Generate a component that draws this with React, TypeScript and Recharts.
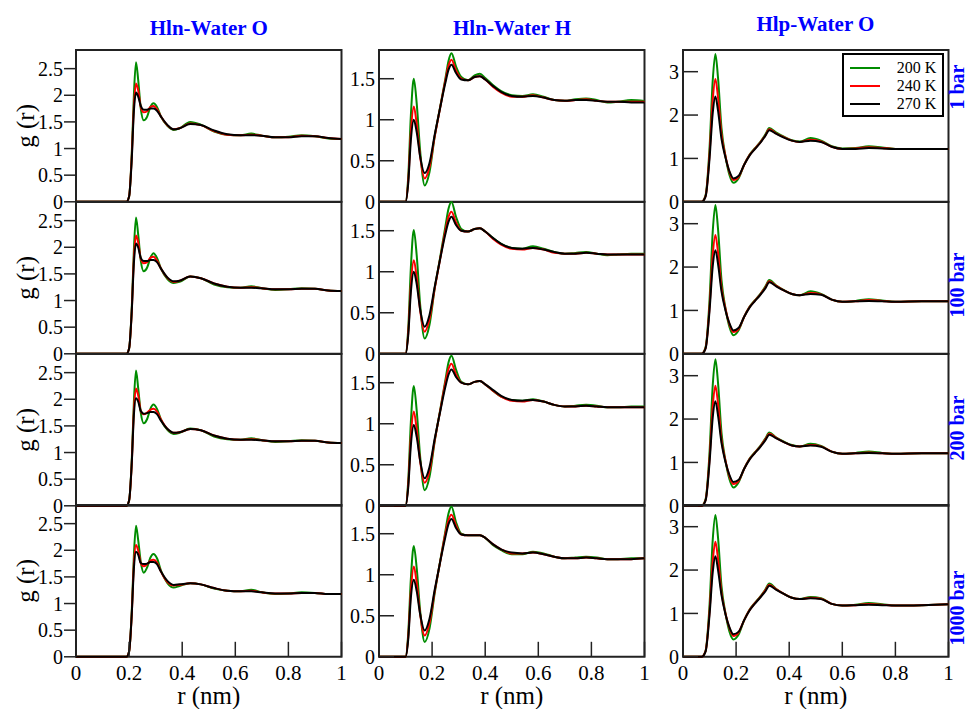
import React from 'react';
import { LineChart, Line, XAxis, YAxis, ReferenceArea, Legend } from 'recharts';

// r grid (nm) for each column
const rHlnO = [0, 0.19, 0.2, 0.21, 0.218, 0.226, 0.234, 0.244, 0.255, 0.268, 0.28, 0.292, 0.305, 0.32, 0.345, 0.368, 0.39, 0.43, 0.47, 0.52, 0.57, 0.62, 0.66, 0.7, 0.75, 0.8, 0.85, 0.9, 0.95, 1.0];
const rHlnH = [0, 0.1, 0.11, 0.12, 0.131, 0.142, 0.155, 0.172, 0.19, 0.21, 0.23, 0.25, 0.262, 0.273, 0.29, 0.31, 0.335, 0.36, 0.38, 0.4, 0.43, 0.46, 0.5, 0.54, 0.58, 0.62, 0.66, 0.7, 0.74, 0.78, 0.82, 0.86, 0.9, 0.95, 1.0];
const rHlpO = [0, 0.07, 0.085, 0.1, 0.112, 0.122, 0.132, 0.145, 0.16, 0.175, 0.19, 0.21, 0.23, 0.25, 0.27, 0.29, 0.31, 0.325, 0.35, 0.38, 0.41, 0.44, 0.48, 0.52, 0.56, 0.6, 0.65, 0.7, 0.75, 0.8, 0.9, 1.0];

// g(r) per pressure: 1 bar, 100 bar, 200 bar, 1000 bar
const hlnO200 = [
  [0, 0, 0.1, 0.9, 2.0, 2.62, 2.3, 1.75, 1.53, 1.6, 1.78, 1.85, 1.78, 1.6, 1.42, 1.35, 1.38, 1.5, 1.45, 1.32, 1.26, 1.25, 1.28, 1.24, 1.21, 1.22, 1.25, 1.23, 1.19, 1.18],
  [0, 0, 0.1, 0.85, 1.95, 2.56, 2.25, 1.75, 1.55, 1.62, 1.8, 1.89, 1.8, 1.6, 1.4, 1.33, 1.35, 1.45, 1.42, 1.3, 1.25, 1.24, 1.27, 1.23, 1.2, 1.21, 1.23, 1.22, 1.19, 1.18],
  [0, 0, 0.1, 0.85, 1.95, 2.54, 2.22, 1.75, 1.55, 1.63, 1.82, 1.9, 1.82, 1.62, 1.42, 1.35, 1.37, 1.45, 1.42, 1.3, 1.25, 1.24, 1.27, 1.23, 1.2, 1.21, 1.23, 1.22, 1.19, 1.18],
  [0, 0, 0.1, 0.85, 1.9, 2.46, 2.2, 1.78, 1.58, 1.68, 1.86, 1.93, 1.85, 1.62, 1.38, 1.3, 1.33, 1.38, 1.36, 1.28, 1.24, 1.23, 1.26, 1.21, 1.18, 1.19, 1.21, 1.2, 1.18, 1.18],
];
const hlnO240 = [
  [0, 0, 0.1, 0.85, 1.8, 2.22, 2.1, 1.78, 1.68, 1.7, 1.78, 1.8, 1.74, 1.6, 1.43, 1.36, 1.38, 1.47, 1.44, 1.33, 1.26, 1.25, 1.26, 1.24, 1.21, 1.21, 1.24, 1.23, 1.2, 1.18],
  [0, 0, 0.1, 0.8, 1.8, 2.22, 2.1, 1.78, 1.7, 1.72, 1.8, 1.82, 1.75, 1.6, 1.42, 1.35, 1.37, 1.45, 1.42, 1.32, 1.26, 1.24, 1.25, 1.23, 1.21, 1.21, 1.22, 1.22, 1.19, 1.18],
  [0, 0, 0.1, 0.8, 1.8, 2.2, 2.08, 1.78, 1.72, 1.75, 1.8, 1.82, 1.77, 1.62, 1.44, 1.37, 1.38, 1.44, 1.42, 1.32, 1.26, 1.24, 1.25, 1.23, 1.21, 1.21, 1.22, 1.22, 1.19, 1.18],
  [0, 0, 0.1, 0.8, 1.75, 2.1, 2.0, 1.76, 1.7, 1.74, 1.8, 1.82, 1.77, 1.6, 1.4, 1.34, 1.35, 1.38, 1.36, 1.29, 1.24, 1.23, 1.24, 1.21, 1.19, 1.19, 1.2, 1.2, 1.18, 1.18],
];
const hlnO270 = [
  [0, 0, 0.1, 0.8, 1.7, 2.05, 1.98, 1.8, 1.73, 1.73, 1.75, 1.75, 1.71, 1.6, 1.44, 1.36, 1.38, 1.46, 1.44, 1.34, 1.27, 1.25, 1.25, 1.24, 1.21, 1.21, 1.23, 1.23, 1.2, 1.18],
  [0, 0, 0.1, 0.8, 1.7, 2.07, 2.0, 1.8, 1.74, 1.74, 1.76, 1.76, 1.72, 1.6, 1.43, 1.36, 1.37, 1.45, 1.42, 1.32, 1.26, 1.24, 1.24, 1.23, 1.21, 1.21, 1.22, 1.22, 1.19, 1.18],
  [0, 0, 0.1, 0.8, 1.7, 2.02, 1.96, 1.78, 1.73, 1.74, 1.76, 1.76, 1.72, 1.6, 1.44, 1.37, 1.38, 1.44, 1.42, 1.32, 1.26, 1.24, 1.24, 1.23, 1.21, 1.21, 1.22, 1.22, 1.19, 1.18],
  [0, 0, 0.1, 0.8, 1.65, 1.97, 1.92, 1.76, 1.74, 1.75, 1.78, 1.78, 1.74, 1.6, 1.42, 1.35, 1.36, 1.38, 1.36, 1.29, 1.24, 1.23, 1.23, 1.21, 1.19, 1.19, 1.2, 1.2, 1.18, 1.18],
];

const hlnH200 = [
  [0, 0, 0.3, 1.05, 1.5, 1.2, 0.62, 0.2, 0.36, 0.8, 1.15, 1.5, 1.72, 1.81, 1.65, 1.52, 1.48, 1.54, 1.56, 1.51, 1.42, 1.35, 1.3, 1.29, 1.31, 1.28, 1.24, 1.23, 1.25, 1.26, 1.24, 1.21, 1.22, 1.24, 1.23],
  [0, 0, 0.3, 1.05, 1.51, 1.2, 0.6, 0.185, 0.35, 0.8, 1.17, 1.55, 1.77, 1.85, 1.67, 1.52, 1.49, 1.52, 1.53, 1.49, 1.41, 1.34, 1.29, 1.28, 1.31, 1.28, 1.24, 1.22, 1.23, 1.24, 1.22, 1.2, 1.21, 1.22, 1.22],
  [0, 0, 0.3, 1.02, 1.46, 1.16, 0.6, 0.19, 0.35, 0.79, 1.16, 1.53, 1.75, 1.83, 1.66, 1.51, 1.48, 1.51, 1.52, 1.48, 1.4, 1.33, 1.29, 1.28, 1.3, 1.27, 1.23, 1.21, 1.22, 1.23, 1.22, 1.2, 1.2, 1.21, 1.21],
  [0, 0, 0.28, 0.95, 1.35, 1.08, 0.56, 0.18, 0.34, 0.78, 1.16, 1.53, 1.75, 1.83, 1.64, 1.5, 1.48, 1.48, 1.48, 1.45, 1.36, 1.3, 1.25, 1.25, 1.28, 1.26, 1.22, 1.2, 1.21, 1.22, 1.21, 1.19, 1.19, 1.2, 1.2],
];
const hlnH240 = [
  [0, 0, 0.25, 0.85, 1.16, 0.95, 0.55, 0.285, 0.42, 0.8, 1.14, 1.48, 1.66, 1.73, 1.6, 1.5, 1.48, 1.52, 1.53, 1.49, 1.4, 1.33, 1.28, 1.28, 1.3, 1.27, 1.24, 1.23, 1.24, 1.25, 1.23, 1.22, 1.22, 1.22, 1.22],
  [0, 0, 0.25, 0.84, 1.14, 0.93, 0.53, 0.27, 0.42, 0.8, 1.15, 1.5, 1.67, 1.73, 1.6, 1.5, 1.49, 1.52, 1.53, 1.49, 1.4, 1.33, 1.28, 1.27, 1.29, 1.27, 1.23, 1.22, 1.22, 1.23, 1.22, 1.21, 1.21, 1.21, 1.21],
  [0, 0, 0.25, 0.84, 1.15, 0.93, 0.54, 0.28, 0.42, 0.8, 1.15, 1.5, 1.67, 1.73, 1.6, 1.5, 1.48, 1.51, 1.52, 1.48, 1.4, 1.33, 1.28, 1.27, 1.29, 1.27, 1.23, 1.21, 1.21, 1.22, 1.21, 1.2, 1.2, 1.2, 1.2],
  [0, 0, 0.24, 0.8, 1.1, 0.9, 0.52, 0.26, 0.41, 0.8, 1.15, 1.5, 1.67, 1.73, 1.6, 1.49, 1.48, 1.48, 1.48, 1.45, 1.37, 1.31, 1.26, 1.26, 1.27, 1.25, 1.22, 1.2, 1.2, 1.21, 1.2, 1.19, 1.19, 1.19, 1.2],
];
const hlnH270 = [
  [0, 0, 0.22, 0.75, 1.0, 0.85, 0.55, 0.35, 0.47, 0.82, 1.14, 1.45, 1.61, 1.67, 1.57, 1.49, 1.48, 1.52, 1.53, 1.49, 1.41, 1.34, 1.29, 1.28, 1.29, 1.27, 1.24, 1.23, 1.24, 1.24, 1.23, 1.22, 1.22, 1.21, 1.21],
  [0, 0, 0.22, 0.75, 1.0, 0.85, 0.54, 0.33, 0.47, 0.82, 1.15, 1.46, 1.61, 1.67, 1.57, 1.5, 1.49, 1.52, 1.53, 1.49, 1.41, 1.34, 1.29, 1.28, 1.29, 1.27, 1.24, 1.22, 1.22, 1.23, 1.22, 1.21, 1.21, 1.21, 1.21],
  [0, 0, 0.22, 0.74, 0.985, 0.84, 0.55, 0.335, 0.47, 0.82, 1.14, 1.45, 1.6, 1.66, 1.57, 1.5, 1.48, 1.51, 1.52, 1.48, 1.41, 1.34, 1.29, 1.28, 1.29, 1.27, 1.23, 1.21, 1.21, 1.22, 1.21, 1.2, 1.2, 1.2, 1.2],
  [0, 0, 0.21, 0.72, 0.94, 0.8, 0.52, 0.32, 0.46, 0.82, 1.15, 1.46, 1.62, 1.68, 1.57, 1.49, 1.48, 1.48, 1.48, 1.45, 1.37, 1.31, 1.27, 1.26, 1.27, 1.25, 1.22, 1.2, 1.2, 1.21, 1.2, 1.19, 1.19, 1.19, 1.2],
];

const hlpO200 = [
  [0, 0, 0.15, 1.25, 2.8, 3.41, 2.85, 1.7, 1.05, 0.62, 0.44, 0.55, 0.85, 1.08, 1.23, 1.37, 1.55, 1.7, 1.6, 1.5, 1.42, 1.39, 1.47, 1.41, 1.28, 1.23, 1.24, 1.28, 1.25, 1.22, 1.22, 1.22],
  [0, 0, 0.15, 1.25, 2.82, 3.43, 2.87, 1.7, 1.05, 0.62, 0.43, 0.55, 0.85, 1.08, 1.23, 1.37, 1.55, 1.7, 1.58, 1.47, 1.38, 1.35, 1.44, 1.38, 1.25, 1.2, 1.22, 1.26, 1.23, 1.2, 1.21, 1.21],
  [0, 0, 0.15, 1.24, 2.78, 3.38, 2.83, 1.68, 1.04, 0.61, 0.42, 0.55, 0.85, 1.08, 1.23, 1.37, 1.55, 1.69, 1.58, 1.48, 1.4, 1.37, 1.43, 1.38, 1.25, 1.2, 1.22, 1.25, 1.22, 1.2, 1.21, 1.21],
  [0, 0, 0.14, 1.2, 2.7, 3.27, 2.74, 1.63, 1.0, 0.58, 0.4, 0.52, 0.84, 1.08, 1.24, 1.38, 1.55, 1.69, 1.57, 1.45, 1.36, 1.33, 1.38, 1.35, 1.22, 1.18, 1.2, 1.24, 1.21, 1.18, 1.19, 1.21],
];
const hlpO240 = [
  [0, 0, 0.13, 1.1, 2.35, 2.83, 2.4, 1.55, 1.05, 0.68, 0.5, 0.58, 0.85, 1.07, 1.22, 1.36, 1.53, 1.67, 1.58, 1.49, 1.41, 1.38, 1.43, 1.39, 1.27, 1.22, 1.23, 1.26, 1.24, 1.22, 1.22, 1.22],
  [0, 0, 0.13, 1.08, 2.28, 2.74, 2.33, 1.52, 1.04, 0.68, 0.5, 0.58, 0.85, 1.07, 1.22, 1.36, 1.53, 1.67, 1.57, 1.46, 1.38, 1.35, 1.4, 1.37, 1.25, 1.2, 1.21, 1.24, 1.22, 1.2, 1.21, 1.21],
  [0, 0, 0.13, 1.09, 2.3, 2.77, 2.35, 1.52, 1.04, 0.68, 0.5, 0.58, 0.85, 1.07, 1.22, 1.36, 1.53, 1.66, 1.57, 1.47, 1.39, 1.37, 1.4, 1.37, 1.25, 1.2, 1.21, 1.23, 1.21, 1.2, 1.21, 1.21],
  [0, 0, 0.13, 1.05, 2.2, 2.65, 2.25, 1.48, 1.0, 0.66, 0.48, 0.57, 0.84, 1.07, 1.23, 1.37, 1.53, 1.66, 1.56, 1.45, 1.36, 1.33, 1.36, 1.34, 1.22, 1.18, 1.19, 1.22, 1.2, 1.18, 1.19, 1.21],
];
const hlpO270 = [
  [0, 0, 0.12, 1.0, 2.05, 2.43, 2.1, 1.45, 1.02, 0.7, 0.54, 0.6, 0.85, 1.06, 1.21, 1.35, 1.52, 1.65, 1.57, 1.48, 1.41, 1.38, 1.41, 1.38, 1.27, 1.22, 1.22, 1.24, 1.23, 1.22, 1.22, 1.22],
  [0, 0, 0.12, 1.0, 2.02, 2.39, 2.07, 1.44, 1.0, 0.7, 0.54, 0.6, 0.85, 1.06, 1.21, 1.35, 1.51, 1.65, 1.56, 1.46, 1.38, 1.35, 1.38, 1.36, 1.25, 1.2, 1.21, 1.22, 1.21, 1.2, 1.21, 1.21],
  [0, 0, 0.12, 1.0, 2.04, 2.41, 2.08, 1.45, 1.01, 0.71, 0.55, 0.6, 0.85, 1.06, 1.21, 1.35, 1.51, 1.64, 1.56, 1.47, 1.39, 1.37, 1.39, 1.36, 1.25, 1.2, 1.21, 1.22, 1.21, 1.2, 1.21, 1.21],
  [0, 0, 0.12, 0.97, 1.95, 2.32, 2.0, 1.42, 0.98, 0.68, 0.52, 0.58, 0.84, 1.06, 1.22, 1.36, 1.51, 1.64, 1.55, 1.45, 1.36, 1.33, 1.35, 1.33, 1.22, 1.18, 1.19, 1.2, 1.19, 1.18, 1.19, 1.21],
];

const titles = ['Hln-Water O', 'Hln-Water H', 'Hlp-Water O'];
const pressures = ['1 bar', '100 bar', '200 bar', '1000 bar'];
const temps = ['200 K', '240 K', '270 K'];
const tempColors = ['#008c00', '#ff0000', '#000000'];
const xTicks = [0, 0.2, 0.4, 0.6, 0.8, 1];
const yTicksHlnO = [0, 0.5, 1, 1.5, 2, 2.5];
const yTicksHlnH = [0, 0.5, 1, 1.5];
const yTicksHlpO = [0, 1, 2, 3];

const FONT = '"Liberation Serif", "Times New Roman", serif';
const AXIS = '#222';

const columns = [
  { r: rHlnO, series: [hlnO200, hlnO240, hlnO270], yMax: 2.85, yTicks: yTicksHlnO, tickSize: 12, tickMargin: 1 },
  { r: rHlnH, series: [hlnH200, hlnH240, hlnH270], yMax: 1.85, yTicks: yTicksHlnH, tickSize: -15, tickMargin: 19 },
  { r: rHlpO, series: [hlpO200, hlpO240, hlpO270], yMax: 3.5, yTicks: yTicksHlpO, tickSize: -15, tickMargin: 19 },
];

// layout (page pixels)
const plotLefts = [76, 379.3, 682.7];
const PLOT_W = 265.5;
const PLOT_TOP = 50;
const PLOT_H = 151.8;
const YW = 70;
const MT = 6;
const MR = 6;
const titleY = [35, 35, 30.7];
const labelY = [87, 285, 428, 608];

const renderLegend = (props: any) => (
  <div style={{ border: '2px solid #000', background: '#fff', width: 102, height: 64, boxSizing: 'border-box', padding: '3.5px 0 0 6px', fontFamily: FONT, fontSize: 16, color: '#000' }}>
    {(props.payload || []).map((p: any) => (
      <div key={p.value} style={{ display: 'flex', alignItems: 'center', height: 18.3 }}>
        <svg width={30} height={4} style={{ display: 'block' }}>
          <line x1={0} y1={2} x2={30} y2={2} stroke={p.color} strokeWidth={2} />
        </svg>
        <span style={{ marginLeft: 17, lineHeight: '18px' }}>{p.value}</span>
      </div>
    ))}
  </div>
);

const Panel = ({ col, row }: { col: number; row: number }) => {
  const c = columns[col];
  const data = c.r.map((r, i) => ({
    r,
    t200: c.series[0][row][i],
    t240: c.series[1][row][i],
    t270: c.series[2][row][i],
  }));
  const isBottom = row === 3;
  const xh = isBottom ? 52 : 20;
  const tickFont = { fill: '#000', fontSize: 20, fontFamily: FONT };
  return (
    <div style={{ position: 'absolute', left: plotLefts[col] - YW, top: PLOT_TOP + row * PLOT_H - MT }}>
      <LineChart
        width={YW + PLOT_W + MR}
        height={MT + PLOT_H + xh}
        data={data}
        margin={{ top: MT, right: MR, bottom: 0, left: 0 }}
      >
        <XAxis
          type="number"
          dataKey="r"
          domain={[0, 1]}
          ticks={xTicks}
          interval={0}
          height={xh}
          axisLine={false}
          tickSize={-15}
          tickMargin={23}
          tickLine={{ stroke: AXIS, strokeWidth: 1.5 }}
          tick={isBottom ? { ...tickFont, fontSize: 21 } : false}
          label={isBottom ? { value: 'r (nm)', position: 'insideBottom', offset: 5, style: { fontSize: 25, fontFamily: FONT, fill: '#000' } } : undefined}
        />
        <YAxis
          type="number"
          domain={[0, c.yMax]}
          ticks={c.yTicks}
          interval={0}
          width={YW}
          axisLine={false}
          tickSize={c.tickSize}
          tickMargin={c.tickMargin}
          tickLine={{ stroke: AXIS, strokeWidth: 1.5 }}
          tick={tickFont}
          label={col === 0 ? { value: 'g (r)', angle: -90, position: 'insideLeft', offset: 19, style: { textAnchor: 'middle', fontSize: 25, fontFamily: FONT, fill: '#000' } } : undefined}
        />
        <ReferenceArea x1={0} x2={1} y1={0} y2={c.yMax} fill="none" stroke={AXIS} strokeWidth={2} />
        {temps.map((t, k) => (
          <Line
            key={t}
            type="monotone"
            dataKey={['t200', 't240', 't270'][k]}
            name={t}
            stroke={tempColors[k]}
            strokeWidth={2}
            dot={false}
            activeDot={false}
            isAnimationActive={false}
          />
        ))}
        {col === 2 && row === 0 && (
          <Legend
            align="center"
            verticalAlign="middle"
            content={renderLegend}
            wrapperStyle={{ left: 229, top: 9, width: 102, height: 64 }}
          />
        )}
      </LineChart>
    </div>
  );
};

export default function App() {
  return (
    <div style={{ position: 'absolute', left: 0, top: 0, width: 969, height: 709, background: '#fff', overflow: 'hidden' }}>
      {pressures.map((p, row) =>
        titles.map((t, col) => <Panel key={`${p}-${t}`} col={col} row={row} />)
      )}
      <svg width={969} height={709} style={{ position: 'absolute', left: 0, top: 0, pointerEvents: 'none' }}>
        {titles.map((t, col) => (
          <text key={t} x={plotLefts[col] + PLOT_W / 2} y={titleY[col]} textAnchor="middle" fontFamily={FONT} fontWeight="bold" fontSize={21} fill="#0000ff">
            {t}
          </text>
        ))}
        {pressures.map((p, row) => (
          <text key={p} transform={`translate(964, ${labelY[row]}) rotate(-90)`} textAnchor="middle" fontFamily={FONT} fontWeight="bold" fontSize={20} fill="#0000ff">
            {p}
          </text>
        ))}
      </svg>
    </div>
  );
}
